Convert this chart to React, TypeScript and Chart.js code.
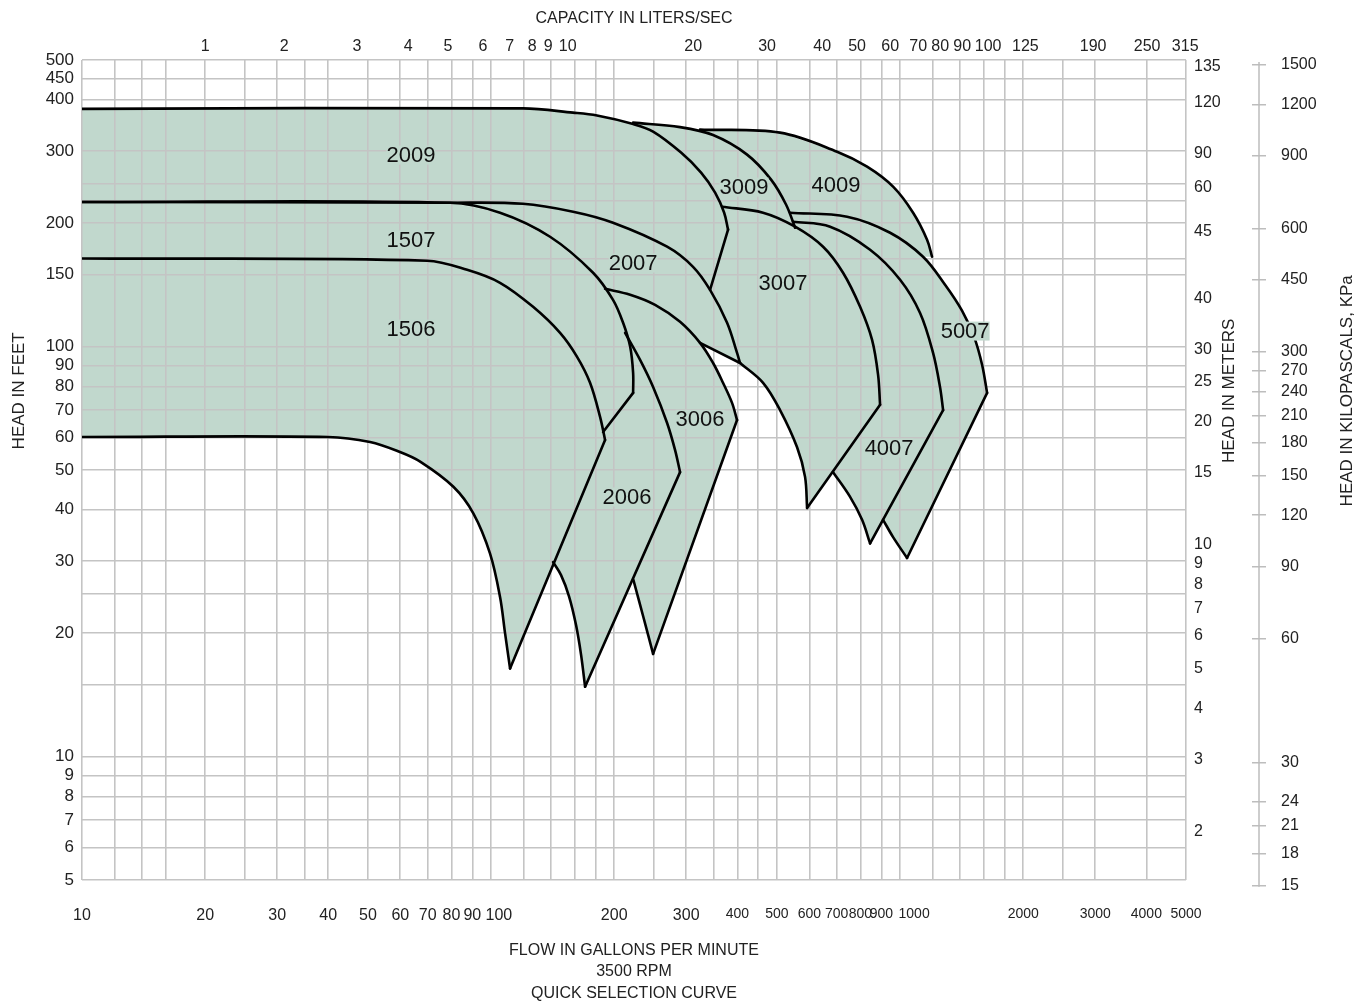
import React, { useEffect, useRef } from 'react';
import { Chart, registerables } from 'chart.js';

Chart.register(...registerables);

type Pt = [number, number];

const FONT = "'Liberation Sans', Arial, sans-serif";
const FILL = '#c1d8cd';
const GRID = '#c4c4c4';
const TEXT = '#222222';

// ---- axis values ----
const gridGpm = [10, 12, 14, 16, 20, 25, 30, 35, 40, 50, 60, 70, 80, 90, 100, 120, 140, 160, 180, 200, 250, 300, 350, 400, 450, 500, 600, 700, 800, 900, 1000, 1200, 1400, 1600, 1800, 2000, 2500, 3000, 4000, 5000];
const gridFt = [5, 6, 7, 8, 9, 10, 15, 20, 25, 30, 40, 50, 60, 70, 80, 90, 100, 150, 164, 200, 227, 250, 300, 400, 450, 500];
const feetLabels = [5, 6, 7, 8, 9, 10, 20, 30, 40, 50, 60, 70, 80, 90, 100, 150, 200, 300, 400, 450, 500];

const gpmLabels = ['10', '20', '30', '40', '50', '60', '70', '80', '90', '100', '200', '300', '400', '500', '600', '700', '800', '900', '1000', '2000', '3000', '4000', '5000'];
const gpmLabelAt = [10, 20, 30, 40, 50, 60, 70, 80, 90, 104.5, 200, 300, 400, 500, 600, 700, 800, 900, 1082, 2000, 3000, 4000, 5000];

const lpsLabels = ['1', '2', '3', '4', '5', '6', '7', '8', '9', '10', '20', '30', '40', '50', '60', '70', '80', '90', '100', '125', '190', '250', '315'];
const lpsLabelAtGpm = [20, 31.2, 47, 62.7, 78.5, 95.5, 111, 126, 138, 154, 312, 473, 645, 785, 946, 1107, 1253, 1418, 1641, 2024, 2965, 4018, 4977];

const meterLabels = ['135', '120', '90', '60', '45', '40', '30', '25', '20', '15', '10', '9', '8', '7', '6', '5', '4', '3', '2'];
const meterLabelAtFt = [482, 394, 295, 244, 191, 131, 98.4, 82, 65.6, 49.2, 32.8, 29.5, 26.2, 23, 19.7, 16.4, 13.1, 9.84, 6.56];

const kpaTicks = [1500, 1200, 900, 600, 450, 300, 270, 240, 210, 180, 150, 120, 90, 60, 30, 24, 21, 18, 15];

// ---- pump curves: [GPM, feet] ----
const top1506: Pt[] = [[10, 164], [69.8, 162], [87.4, 153.9], [105.2, 143.1], [126.7, 125], [147.5, 108], [162.3, 94.4], [174.6, 81.6], [184.8, 67.3], [190, 59.2]];
const end1506: Pt[] = [[190, 59.2], [111.3, 16.4]];
const bot1506: Pt[] = [[111.3, 16.4], [108.2, 20.0], [105.2, 24.5], [99.4, 31.3], [90.5, 39.2], [80.9, 45.5], [67.1, 52.4], [59.9, 55.3], [50.6, 58.5], [39.9, 60.2], [10, 60.2]];

const top1507: Pt[] = [[10, 225.3], [79.4, 224.3], [105.2, 212.1], [139.4, 185.3], [177.6, 151.4], [198.7, 130], [210.3, 114.3], [218.8, 100], [222.5, 86.3], [222.5, 77.1]];
const end1507: Pt[] = [[222.5, 77.1], [187.9, 61.9]];

const top2009: Pt[] = [[10, 379.9], [119.7, 381], [158.7, 372], [181.6, 366], [222.5, 349], [249, 334.5], [291.4, 297.3], [326.2, 265.7], [353, 237.5], [371.3, 212.3], [379.7, 192.9]];
const end2009: Pt[] = [[379.7, 192.9], [343.1, 137.5]];

const top2007: Pt[] = [[10, 225.3], [79.4, 224.3], [119.7, 223], [158.7, 213.3], [198.7, 200.5], [269.4, 175.2], [311.8, 156.5], [343.1, 137.5], [377.6, 114.3], [399.4, 96.5], [406.2, 91.2]];
const end2007: Pt[] = [[406.2, 91.2], [324.3, 102.1]];

const top3006: Pt[] = [[190, 138.3], [218.8, 133.8], [251.8, 126.4], [289.8, 114.9], [324.3, 102.1], [349, 91.2], [369.3, 81.5], [388.3, 72.9], [399.4, 66.2]];
const end3006: Pt[] = [[399.4, 66.2], [249, 17.8]];
const bot3006: Pt[] = [[249, 17.8], [235.7, 21.9], [222.8, 27.0]];

const top2006: Pt[] = [[212.7, 108], [231.4, 92.8], [249, 79.7], [269.4, 65.1], [281.8, 55.9], [289.8, 49.4]];
const end2006: Pt[] = [[289.8, 49.4], [169.8, 14.8]];
const bot2006: Pt[] = [[169.8, 14.8], [166, 17.7], [161.4, 20.9], [155.1, 24.6], [148.3, 27.7], [141.8, 29.8]];

const top3009: Pt[] = [[222.5, 351.8], [289.8, 343], [349, 328], [422.6, 293.9], [483.7, 255.4], [526.5, 221.8], [553.8, 194.9]];
const top4009: Pt[] = [[324.3, 338.2], [508.8, 332.5], [701.4, 298.8], [830.4, 274.7], [961.4, 245.5], [1076, 212.1], [1164, 182.3], [1197, 165.7]];

const top3007: Pt[] = [[367.2, 219.3], [462.4, 212.1], [553.8, 196.1], [648.3, 175.2], [725.4, 151.4], [798.4, 125], [854.1, 103.8], [883.5, 85.3], [893.5, 72.1]];
const end3007: Pt[] = [[893.5, 72.1], [592.4, 40.4]];
const bot3007: Pt[] = [[592.4, 40.4], [585.7, 48.1], [560, 56.8], [508.8, 70], [462.4, 81.6], [406.2, 91.2]];

const top4007: Pt[] = [[547.5, 201.6], [674.4, 196.1], [844.6, 172.3], [1000, 145.6], [1119, 120.8], [1204, 96.5], [1252, 79.7], [1274, 70]];
const end4007: Pt[] = [[1274, 70], [844.6, 33.1]];
const bot4007: Pt[] = [[844.6, 33.1], [807.4, 37.8], [754.7, 43.0], [685.8, 49.4]];

const top5007: Pt[] = [[538.3, 212.1], [742, 207.4], [945.4, 189.5], [1138, 165.6], [1288, 141.5], [1418, 122.2], [1517, 105.6], [1587, 90.2], [1632, 77.1]];
const end5007: Pt[] = [[1632, 77.1], [1040, 30.5]];
const bot5007: Pt[] = [[1040, 30.5], [961.4, 34.3], [908.7, 37.8]];

// ---- model labels ----
const pumpNames = ['2009', '1507', '1506', '2007', '3009', '4009', '3007', '5007', '3006', '4007', '2006'];
const labelGpm = [63.7, 63.7, 63.7, 222.5, 415.5, 697.5, 517.5, 1442, 324.3, 940, 215];
const labelFt = [294, 182.4, 110.6, 160.3, 245.6, 248.4, 143.3, 109.4, 66.7, 56.7, 43.1];

const rev = (p: Pt[]) => p.slice().reverse();
const toXY = (p: Pt[]) => p.map(([x, y]) => ({ x, y }));

const fillShapes: Pt[][] = [
  [...top1506, ...bot1506],
  [...top1507, end1507[1], ...rev(top1506).slice(1)],
  [...top2009, ...rev(top2007.slice(0, 8))],
  [...top2007, ...rev(top3006.slice(0, 5)), ...rev(top1507.slice(0, 5))],
  [...top2006, ...bot2006, top1506[top1506.length - 1], end1507[1], top1507[9], top1507[8], top1507[7]],
  [...top3006, ...bot3006, top2006[5], ...rev(top2006).slice(1), top1507[6], top1507[5]],
  [...top3009, top3007[1], top3007[0], ...rev(top2009.slice(4, 9))],
  [...top4009, ...rev(top5007.slice(0, 4)), ...rev(top3009.slice(2, 5))],
  [...top3007, ...bot3007, ...rev(top2007.slice(7, 10)), top2009[10], top2009[9]],
  [...top4007, ...bot4007, top3007[8], ...rev(top3007.slice(2, 8))],
  [...top5007, ...bot5007, top4007[7], ...rev(top4007.slice(0, 7))],
];

const smoothCurves: Pt[][] = [top1506, bot1506, top1507, top2009, top2007, top3006, bot3006, top2006, bot2006, top3009, top4009, top3007, bot3007, top4007, bot4007, top5007, bot5007];
const straightLines: Pt[][] = [end1506, end1507, end2009, end2007, end3006, end2006, end3007, end4007, end5007];

const fixedTicks = (values: number[]) => (scale: any) => {
  scale.ticks = values.map((v) => ({ value: v }));
};

const overlay = {
  id: 'overlay',
  afterDatasetsDraw(chart: any) {
    const { ctx, scales } = chart;
    const xs = scales.x;
    const ys = scales.y;
    ctx.save();
    ctx.font = `22px ${FONT}`;
    ctx.textAlign = 'center';
    ctx.textBaseline = 'middle';
    pumpNames.forEach((name, i) => {
      const px = xs.getPixelForValue(labelGpm[i]);
      const py = ys.getPixelForValue(labelFt[i]);
      const w = ctx.measureText(name).width;
      ctx.fillStyle = FILL;
      ctx.fillRect(px - w / 2, py - 9, w, 19);
      ctx.fillStyle = '#111';
      ctx.fillText(name, px, py + 1);
    });
    ctx.restore();
  },
  afterDraw(chart: any) {
    const { ctx, scales } = chart;
    const ys = scales.y;
    const yM = scales.yM;
    const yK = scales.yK;
    ctx.save();
    ctx.strokeStyle = '#bdbdbd';
    ctx.lineWidth = 1.5;
    const ax = yK.left + 7;
    ctx.beginPath();
    ctx.moveTo(ax, yK.getPixelForValue(kpaTicks[0]) - 3);
    ctx.lineTo(ax, yK.getPixelForValue(kpaTicks[kpaTicks.length - 1]) + 1);
    ctx.stroke();
    ctx.fillStyle = TEXT;
    ctx.font = `17px ${FONT}`;
    ctx.textAlign = 'center';
    ctx.textBaseline = 'middle';
    const cy = ys.getPixelForValue(78);
    const titles: [number, string][] = [
      [ys.left + 19, 'HEAD IN FEET'],
      [yM.left + 43, 'HEAD IN METERS'],
      [yK.left + 95, 'HEAD IN KILOPASCALS, KPa'],
    ];
    for (const [x, t] of titles) {
      ctx.save();
      ctx.translate(x, cy);
      ctx.rotate(-Math.PI / 2);
      ctx.fillText(t, 0, 0);
      ctx.restore();
    }
    ctx.restore();
  },
};

export default function App() {
  const ref = useRef<HTMLCanvasElement | null>(null);

  useEffect(() => {
    if (!ref.current) return;
    Chart.defaults.font.family = FONT;
    const datasets: any[] = [
      ...fillShapes.map((s) => ({
        data: toXY(s),
        fill: 'shape',
        backgroundColor: FILL,
        borderWidth: 0,
        pointRadius: 0,
        tension: 0,
      })),
      ...smoothCurves.map((c) => ({
        data: toXY(c),
        fill: false,
        borderColor: '#000',
        borderWidth: 2.6,
        pointRadius: 0,
        tension: 0.35,
        borderCapStyle: 'round',
        borderJoinStyle: 'round',
      })),
      ...straightLines.map((c) => ({
        data: toXY(c),
        fill: false,
        borderColor: '#000',
        borderWidth: 2.6,
        pointRadius: 0,
        tension: 0,
        borderCapStyle: 'round',
      })),
    ];

    const chart = new Chart(ref.current, {
      type: 'line',
      data: { datasets },
      plugins: [overlay],
      options: {
        responsive: false,
        animation: false,
        events: [],
        layout: { padding: 0 },
        plugins: {
          legend: { display: false },
          tooltip: { enabled: false },
          filler: { drawTime: 'beforeDraw' },
        },
        scales: {
          x: {
            type: 'logarithmic',
            position: 'bottom',
            min: 10,
            max: 5000,
            afterBuildTicks: fixedTicks(gridGpm),
            ticks: { display: false, autoSkip: false },
            grid: { color: GRID, lineWidth: 1.6, drawTicks: false },
            border: { display: false },
            afterFit: (s: any) => { s.height = 0; },
          },
          xb: {
            type: 'logarithmic',
            position: 'bottom',
            min: 10,
            max: 5000,
            afterBuildTicks: fixedTicks(gpmLabelAt),
            grid: { display: false, drawTicks: false },
            border: { display: false },
            ticks: {
              autoSkip: false,
              maxRotation: 0,
              minRotation: 0,
              padding: 26,
              color: TEXT,
              font: (c: any) => ({ family: FONT, size: c.tick && c.tick.value >= 400 ? 14 : 16 }),
              callback: (_v: any, i: number) => gpmLabels[i],
            },
            title: {
              display: true,
              text: ['FLOW IN GALLONS PER MINUTE', '3500 RPM', 'QUICK SELECTION CURVE'],
              color: TEXT,
              font: { family: FONT, size: 16, lineHeight: 1.34 },
              padding: { top: 0, bottom: 0 },
            },
            afterFit: (s: any) => { s.height = 124; },
          },
          xTop: {
            type: 'logarithmic',
            position: 'top',
            min: 10,
            max: 5000,
            afterBuildTicks: fixedTicks(lpsLabelAtGpm),
            grid: { display: false, drawTicks: false },
            border: { display: false },
            ticks: {
              autoSkip: false,
              maxRotation: 0,
              minRotation: 0,
              padding: 4,
              color: TEXT,
              font: { family: FONT, size: 16 },
              callback: (_v: any, i: number) => lpsLabels[i],
            },
            title: {
              display: true,
              text: 'CAPACITY IN LITERS/SEC',
              color: TEXT,
              font: { family: FONT, size: 16 },
              padding: { top: 9, bottom: 0 },
            },
            afterFit: (s: any) => { s.height = 60; },
          },
          y: {
            type: 'logarithmic',
            position: 'left',
            min: 5,
            max: 500,
            afterBuildTicks: fixedTicks(gridFt),
            ticks: {
              autoSkip: false,
              padding: 8,
              color: TEXT,
              font: { family: FONT, size: 17 },
              callback: (v: any) => (feetLabels.includes(Number(v)) ? String(v) : ''),
            },
            grid: { color: GRID, lineWidth: 1.6, drawTicks: false },
            border: { display: false },
            afterFit: (s: any) => { s.width = 82; },
          },
          yM: {
            type: 'logarithmic',
            position: 'right',
            weight: 0,
            min: 5,
            max: 500,
            afterBuildTicks: fixedTicks(meterLabelAtFt),
            ticks: {
              autoSkip: false,
              padding: 8,
              color: TEXT,
              font: { family: FONT, size: 16 },
              callback: (_v: any, i: number) => meterLabels[i],
            },
            grid: { display: false, drawTicks: false },
            border: { display: false },
            afterFit: (s: any) => { s.width = 66; },
          },
          yK: {
            type: 'logarithmic',
            position: 'right',
            weight: 1,
            min: 15.5,
            max: 1542,
            afterBuildTicks: fixedTicks(kpaTicks),
            ticks: {
              autoSkip: false,
              padding: 15,
              color: TEXT,
              font: { family: FONT, size: 16 },
              callback: (_v: any, i: number) => String(kpaTicks[i]),
            },
            grid: { display: true, drawOnChartArea: false, drawTicks: true, tickLength: 14, color: '#bdbdbd', lineWidth: 1.5 },
            border: { display: false },
            afterFit: (s: any) => { s.width = 117; },
          },
        },
      } as any,
    });
    return () => chart.destroy();
  }, []);

  return (
    <div style={{ position: 'absolute', left: 0, top: 0, width: 1369, height: 1004, background: '#fff' }}>
      <canvas ref={ref} width={1369} height={1004} style={{ display: 'block', width: 1369, height: 1004 }} />
    </div>
  );
}
